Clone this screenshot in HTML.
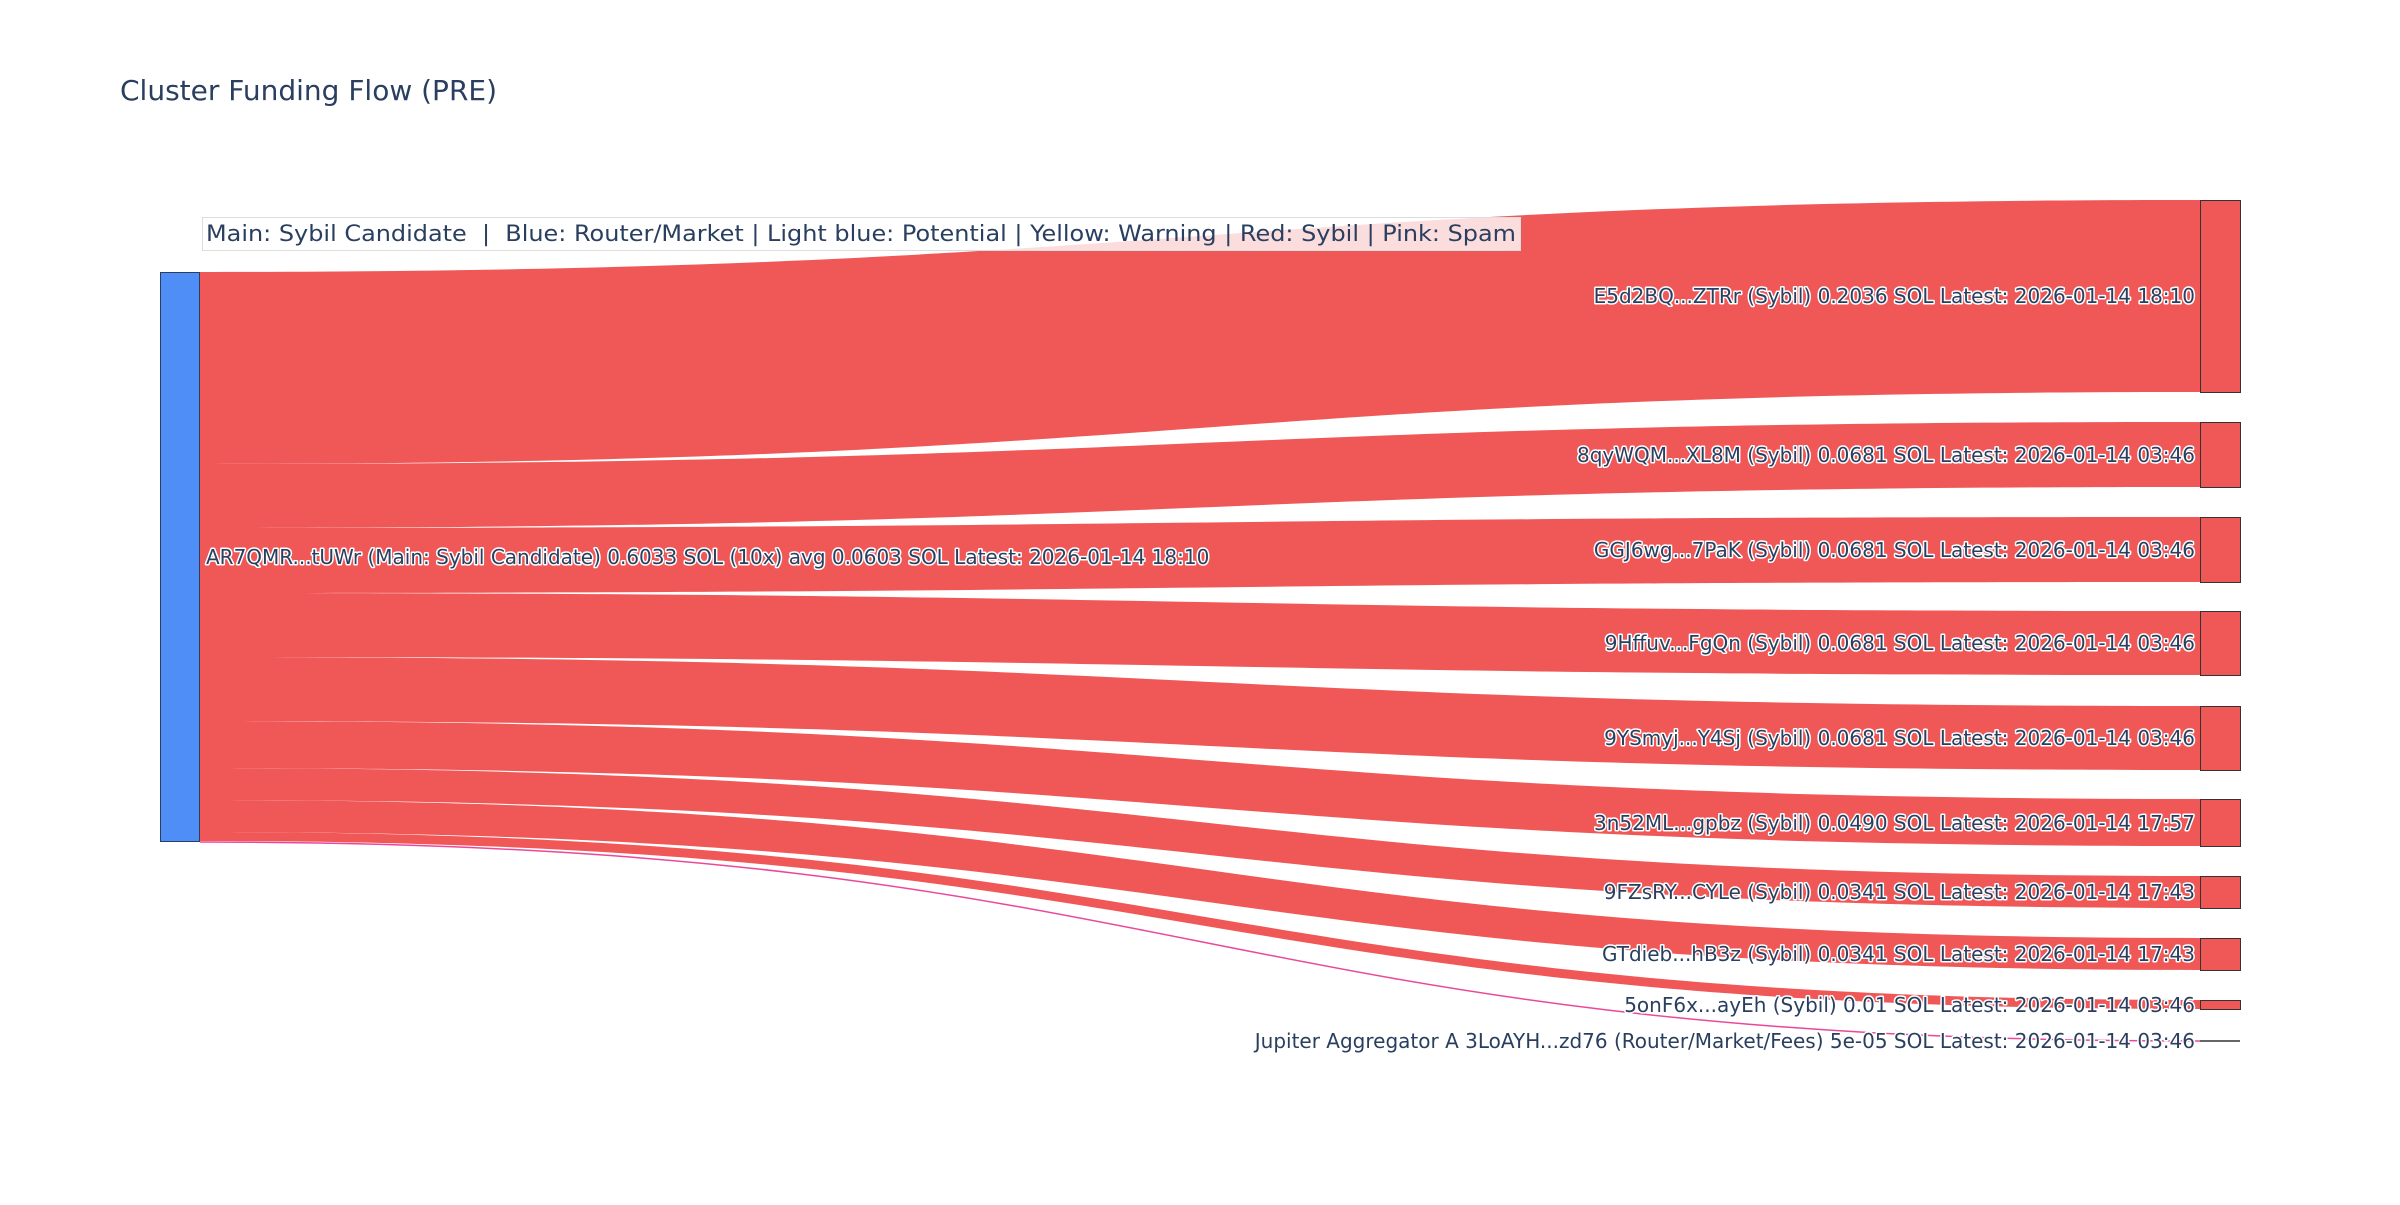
<!DOCTYPE html>
<html><head><meta charset="utf-8"><style>
body{margin:0;background:#fff;}
svg text{font-family:"DejaVu Sans","Liberation Sans",sans-serif;fill:#2a3f5f;}
.lbl{font-size:20px;paint-order:stroke;stroke:#fff;stroke-width:3px;stroke-linejoin:round;}
</style></head><body>
<svg width="2400" height="1200" xmlns="http://www.w3.org/2000/svg">
<rect width="2400" height="1200" fill="#fff"/>
<text x="120" y="100" style="font-size:28px">Cluster Funding Flow (PRE)</text>
<g fill="#f05858">
<path d="M200,272 C1200,272 1200,200 2200,200 L2200,392 C1200,392 1200,464 200,464 Z"/>
<path d="M200,464 C1200,464 1200,422 2200,422 L2200,487 C1200,487 1200,528 200,528 Z"/>
<path d="M200,528 C1200,528 1200,517 2200,517 L2200,582 C1200,582 1200,593 200,593 Z"/>
<path d="M200,593 C1200,593 1200,611 2200,611 L2200,675 C1200,675 1200,657 200,657 Z"/>
<path d="M200,657 C1200,657 1200,706 2200,706 L2200,770 C1200,770 1200,721 200,721 Z"/>
<path d="M200,721 C1200,721 1200,799 2200,799 L2200,846 C1200,846 1200,768 200,768 Z"/>
<path d="M200,768 C1200,768 1200,876 2200,876 L2200,908 C1200,908 1200,800 200,800 Z"/>
<path d="M200,800 C1200,800 1200,938 2200,938 L2200,970 C1200,970 1200,832 200,832 Z"/>
<path d="M200,832 C1200,832 1200,1000 2200,1000 L2200,1009 C1200,1009 1200,841 200,841 Z"/>
</g>
<path d="M200,842 C1200,842 1200,1041 2200,1041" fill="none" stroke="#ec4899" stroke-width="1.5"/>
<rect x="160.5" y="272.5" width="39" height="569" fill="#4f8ef7" stroke="#2a3f5f" stroke-width="1"/>
<g fill="#f05858" stroke="#333" stroke-width="1">
<rect x="2200.5" y="200.5" width="40" height="192"/>
<rect x="2200.5" y="422.5" width="40" height="65"/>
<rect x="2200.5" y="517.5" width="40" height="65"/>
<rect x="2200.5" y="611.5" width="40" height="64"/>
<rect x="2200.5" y="706.5" width="40" height="64"/>
<rect x="2200.5" y="799.5" width="40" height="47"/>
<rect x="2200.5" y="876.5" width="40" height="32"/>
<rect x="2200.5" y="938.5" width="40" height="32"/>
<rect x="2200.5" y="1000.5" width="40" height="9"/>
</g>
<line x1="2200" y1="1041" x2="2240" y2="1041" stroke="#333" stroke-width="1.5"/>
<rect x="202.5" y="217.5" width="1318" height="33" fill="rgba(255,255,255,0.8)" stroke="#ddd" stroke-width="1"/>
<text x="206" y="241" style="font-size:22px" textLength="1310" lengthAdjust="spacingAndGlyphs" xml:space="preserve">Main: Sybil Candidate  |  Blue: Router/Market | Light blue: Potential | Yellow: Warning | Red: Sybil | Pink: Spam</text>
<g class="lbl">
<text x="206" y="564">AR7QMR...tUWr (Main: Sybil Candidate) 0.6033 SOL (10x) avg 0.0603 SOL Latest: 2026-01-14 18:10</text>
</g>
<g class="lbl" text-anchor="end">
<text x="2195" y="303">E5d2BQ...ZTRr (Sybil) 0.2036 SOL Latest: 2026-01-14 18:10</text>
<text x="2195" y="462">8qyWQM...XL8M (Sybil) 0.0681 SOL Latest: 2026-01-14 03:46</text>
<text x="2195" y="557">GGJ6wg...7PaK (Sybil) 0.0681 SOL Latest: 2026-01-14 03:46</text>
<text x="2195" y="650">9Hffuv...FgQn (Sybil) 0.0681 SOL Latest: 2026-01-14 03:46</text>
<text x="2195" y="745">9YSmyj...Y4Sj (Sybil) 0.0681 SOL Latest: 2026-01-14 03:46</text>
<text x="2195" y="830">3n52ML...gpbz (Sybil) 0.0490 SOL Latest: 2026-01-14 17:57</text>
<text x="2195" y="899">9FZsRY...CYLe (Sybil) 0.0341 SOL Latest: 2026-01-14 17:43</text>
<text x="2195" y="961">GTdieb...hB3z (Sybil) 0.0341 SOL Latest: 2026-01-14 17:43</text>
<text x="2195" y="1012">5onF6x...ayEh (Sybil) 0.01 SOL Latest: 2026-01-14 03:46</text>
<text x="2195" y="1048">Jupiter Aggregator A 3LoAYH...zd76 (Router/Market/Fees) 5e-05 SOL Latest: 2026-01-14 03:46</text>
</g>
</svg>
</body></html>
